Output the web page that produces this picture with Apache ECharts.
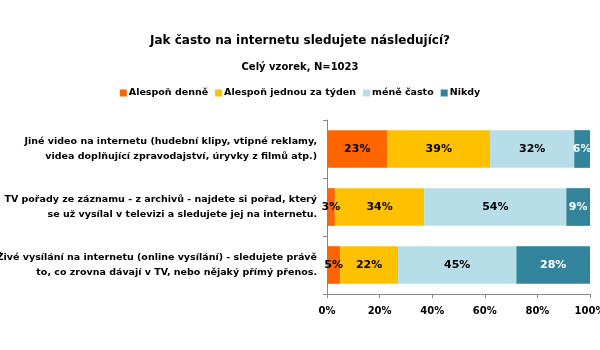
<!DOCTYPE html>
<html><head><meta charset="utf-8">
<script src="https://cdn.jsdelivr.net/npm/echarts@6/dist/echarts.min.js"></script>
<style>html,body{margin:0;padding:0;background:#fff}#c{width:600px;height:350px}</style>
</head><body><div id="c"></div>
<script>
const categories = [
  "Jiné video na internetu (hudební klipy, vtipné reklamy,\nvidea doplňující zpravodajství, úryvky z filmů atp.)",
  "TV pořady ze záznamu - z archivů - najdete si pořad, který\nse už vysílal v televizi a sledujete jej na internetu.",
  "Živé vysílání na internetu (online vysílání) - sledujete právě\nto, co zrovna dávají v TV, nebo nějaký přímý přenos."
];
const seriesNames = ["Alespoň denně", "Alespoň jednou za týden", "méně často", "Nikdy"];
const dailyValues = [23, 3, 5];
const weeklyValues = [39, 34, 22];
const lessOftenValues = [32, 54, 45];
const neverValues = [6, 9, 28];
const tickLabels = ["0%", "20%", "40%", "60%", "80%", "100%"];

const colors = ["#FF6600", "#FFC000", "#B7DEE8", "#31849B"];
const labelColors = ["#000", "#000", "#000", "#fff"];
const values = [dailyValues, weeklyValues, lessOftenValues, neverValues];
const font = "DejaVu Sans";

const chart = echarts.init(document.getElementById('c'));
chart.setOption({
  animation: false,
  textStyle: { fontFamily: font },
  title: [
    { text: "Jak často na internetu sledujete následující?", left: 'center', top: 30,
      textStyle: { fontSize: 12, fontWeight: 'bold', color: '#000', fontFamily: font } },
    { text: "Celý vzorek, N=1023", left: 'center', top: 57,
      textStyle: { fontSize: 10, fontWeight: 'bold', color: '#000', fontFamily: font } }
  ],
  legend: {
    top: 83, left: 'center', itemWidth: 7, itemHeight: 7, itemGap: 7,
    icon: 'rect',
    textStyle: { fontSize: 9.5, fontWeight: 'bold', color: '#000', fontFamily: font, padding: [0, 0, 0, -3] },
    data: seriesNames
  },
  grid: { left: 327, right: 10, top: 120, bottom: 56, outerBoundsMode: 'none', containLabel: false },
  xAxis: {
    type: 'value', min: 0, max: 100, interval: 20,
    axisLine: { show: true, lineStyle: { color: '#888' } },
    axisTick: { show: true, length: 4, lineStyle: { color: '#888' } },
    splitLine: { show: false },
    axisLabel: { formatter: v => tickLabels[v / 20], fontSize: 10, fontWeight: 'bold', color: '#000', margin: 12, fontFamily: font }
  },
  yAxis: {
    type: 'category', inverse: true, data: categories,
    axisLine: { show: true, lineStyle: { color: '#888' } },
    axisTick: { show: true, length: 4, lineStyle: { color: '#888' } },
    axisLabel: { fontSize: 9.5, fontWeight: 'bold', color: '#000', align: 'right', lineHeight: 15, margin: 10, fontFamily: font }
  },
  series: seriesNames.map((name, i) => ({
    name, type: 'bar', stack: 'total', barWidth: '65%',
    itemStyle: { color: colors[i] },
    label: { show: true, position: 'inside', formatter: '{c}%', color: labelColors[i], fontSize: 11, fontWeight: 'bold', fontFamily: font },
    data: values[i]
  }))
});
</script></body></html>
